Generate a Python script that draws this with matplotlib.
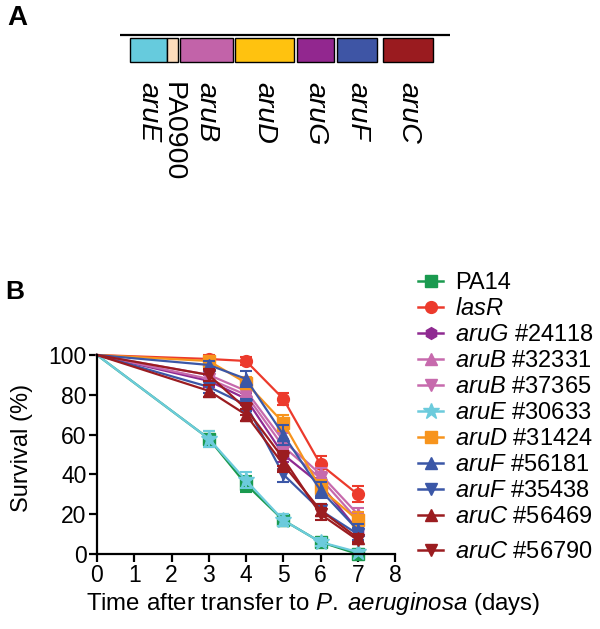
import numpy as np
import matplotlib
matplotlib.use("Agg")
import matplotlib.pyplot as plt
from matplotlib.patches import Rectangle

# =========================
# CONFIG / DATA
# =========================
plt.rcParams["font.family"] = ["Liberation Sans", "DejaVu Sans"]
plt.rcParams["mathtext.fontset"] = "custom"
plt.rcParams["mathtext.rm"] = "Liberation Sans"
plt.rcParams["mathtext.it"] = "Liberation Sans:italic"

# panel A: operon layout (schematic units along the chromosome)
GENES = ["aruE", "PA0900", "aruB", "aruD", "aruG", "aruF", "aruC"]
GENE_START = [130, 167, 180, 235, 297, 337, 383]
GENE_END = [167, 178, 233, 294, 334, 377, 433]
GENE_COLORS = ["#66cbdd", "#fddcbb", "#c263a9", "#ffc20f", "#92278f", "#3e55a5", "#9a1b1f"]
GENE_ITALIC = [True, False, True, True, True, True, True]
CHROM = (120, 450)

# panel B: survival
DAYS = [0, 3, 4, 5, 6, 7]
STRAINS = ["PA14", "lasR", "aruG #24118", "aruB #32331", "aruB #37365", "aruE #30633",
           "aruD #31424", "aruF #56181", "aruF #35438", "aruC #56469", "aruC #56790"]
SURV = [
    [100, 58, 35, 17, 6, 0],
    [100, 98, 97, 78, 45, 30],
    [100, 87, 78, 50, 35, 12],
    [100, 90, 82, 57, 40, 20],
    [100, 88, 80, 54, 38, 17],
    [100, 58, 37, 17, 6, 1],
    [100, 97, 86, 66, 33, 17],
    [100, 95, 88, 60, 32, 12],
    [100, 84, 75, 40, 22, 10],
    [100, 82, 70, 45, 22, 8],
    [100, 90, 73, 48, 20, 7],
]
SEM = [
    [0, 4, 4, 3, 2, 1],
    [0, 2, 2, 3, 4, 4],
    [0, 3, 3, 4, 3, 3],
    [0, 3, 3, 4, 3, 3],
    [0, 3, 3, 4, 3, 3],
    [0, 4, 4, 3, 2, 1],
    [0, 2, 3, 4, 4, 4],
    [0, 2, 4, 5, 4, 3],
    [0, 3, 3, 4, 3, 3],
    [0, 3, 3, 4, 3, 2],
    [0, 3, 3, 4, 3, 2],
]
COLORS = ["#1a9a4f", "#ec3a2c", "#8f2a91", "#c76aad", "#c76aad", "#6ccbdc",
          "#f7941d", "#3b57a7", "#3b57a7", "#9b1c20", "#9b1c20"]
MARKERS = ["s", "o", "h", "^", "v", "*", "s", "^", "v", "^", "v"]
ITALIC_NAME = [False] + [True] * 10


def label_tex(name, italic):
    if not italic:
        return name
    parts = name.split(" ", 1)
    txt = r"$\it{" + parts[0] + "}$"
    if len(parts) > 1:
        txt += " " + parts[1]
    return txt


fig = plt.figure(figsize=(6, 6.29), dpi=100)

# ── Panel A ─────────────────────────────
ax_a = fig.add_axes([0, 1 - 200 / 629, 1, 200 / 629])
ax_a.set_xlim(0, 600)
ax_a.set_ylim(200, 0)
ax_a.axis("off")
ax_a.plot(CHROM, [35, 35], color="black", lw=1.6, solid_capstyle="butt")
for g, s, e, c, it in zip(GENES, GENE_START, GENE_END, GENE_COLORS, GENE_ITALIC):
    ax_a.add_patch(Rectangle((s, 38), e - s, 24, facecolor=c, edgecolor="black", lw=1.0))
    ax_a.text((s + e) / 2, 82, g, rotation=-90, ha="center", va="top",
              fontsize=20.5, style="italic" if it else "normal")

fig.text(17 / 600, 1 - 18 / 629, "A", fontsize=20, fontweight="bold", ha="center", va="center")
fig.text(15 / 600, 1 - 292 / 629, "B", fontsize=19, fontweight="bold", ha="center", va="center")

# ── Panel B ─────────────────────────────
ax = fig.add_axes([97 / 600, 1 - 554 / 629, 298 / 600, 199 / 629])
handles = []
for name, y, e, c, m in zip(STRAINS, SURV, SEM, COLORS, MARKERS):
    ms = 12 if m == "*" else 8.5
    ax.errorbar(DAYS[1:], y[1:], yerr=e[1:], fmt="none", ecolor=c, elinewidth=1.5,
                capsize=4.5, capthick=1.5, clip_on=False)
    ax.plot(DAYS, y, color=c, lw=1.6, marker=m, markersize=ms,
            markevery=list(range(1, len(DAYS))), clip_on=False)
    h, = ax.plot([], [], color=c, lw=1.8, marker=m, markersize=ms)
    handles.append(h)

ax.set_xlim(0, 8)
ax.set_ylim(0, 100)
ax.set_xticks(range(0, 9))
ax.set_yticks(range(0, 101, 20))
for sp in ["top", "right"]:
    ax.spines[sp].set_visible(False)
for sp in ["left", "bottom"]:
    ax.spines[sp].set_linewidth(1.6)
ax.tick_params(direction="out", length=5.5, width=1.6, labelsize=16.5, pad=2)
ax.set_ylabel("Survival (%)", fontsize=17, va="center")
ax.yaxis.set_label_coords(-0.252, 0.533)
ax.set_xlabel(r"Time after transfer to $\it{P.\;aeruginosa}$ (days)", fontsize=17.3, va="center")
ax.xaxis.set_label_coords(0.725, -0.251)

labels = [label_tex(s, it) for s, it in zip(STRAINS, ITALIC_NAME)]
leg_kw = dict(loc="upper left", frameon=False, fontsize=17, handlelength=1.06,
              handletextpad=0.5, labelspacing=0.17, borderaxespad=0, borderpad=0)
fig.legend(handles[:-1], labels[:-1], bbox_to_anchor=(418 / 600, 1 - 272 / 629), **leg_kw)
fig.legend(handles[-1:], labels[-1:], bbox_to_anchor=(418 / 600, 1 - 541 / 629), **leg_kw)

fig.savefig("out.png", dpi=100)
